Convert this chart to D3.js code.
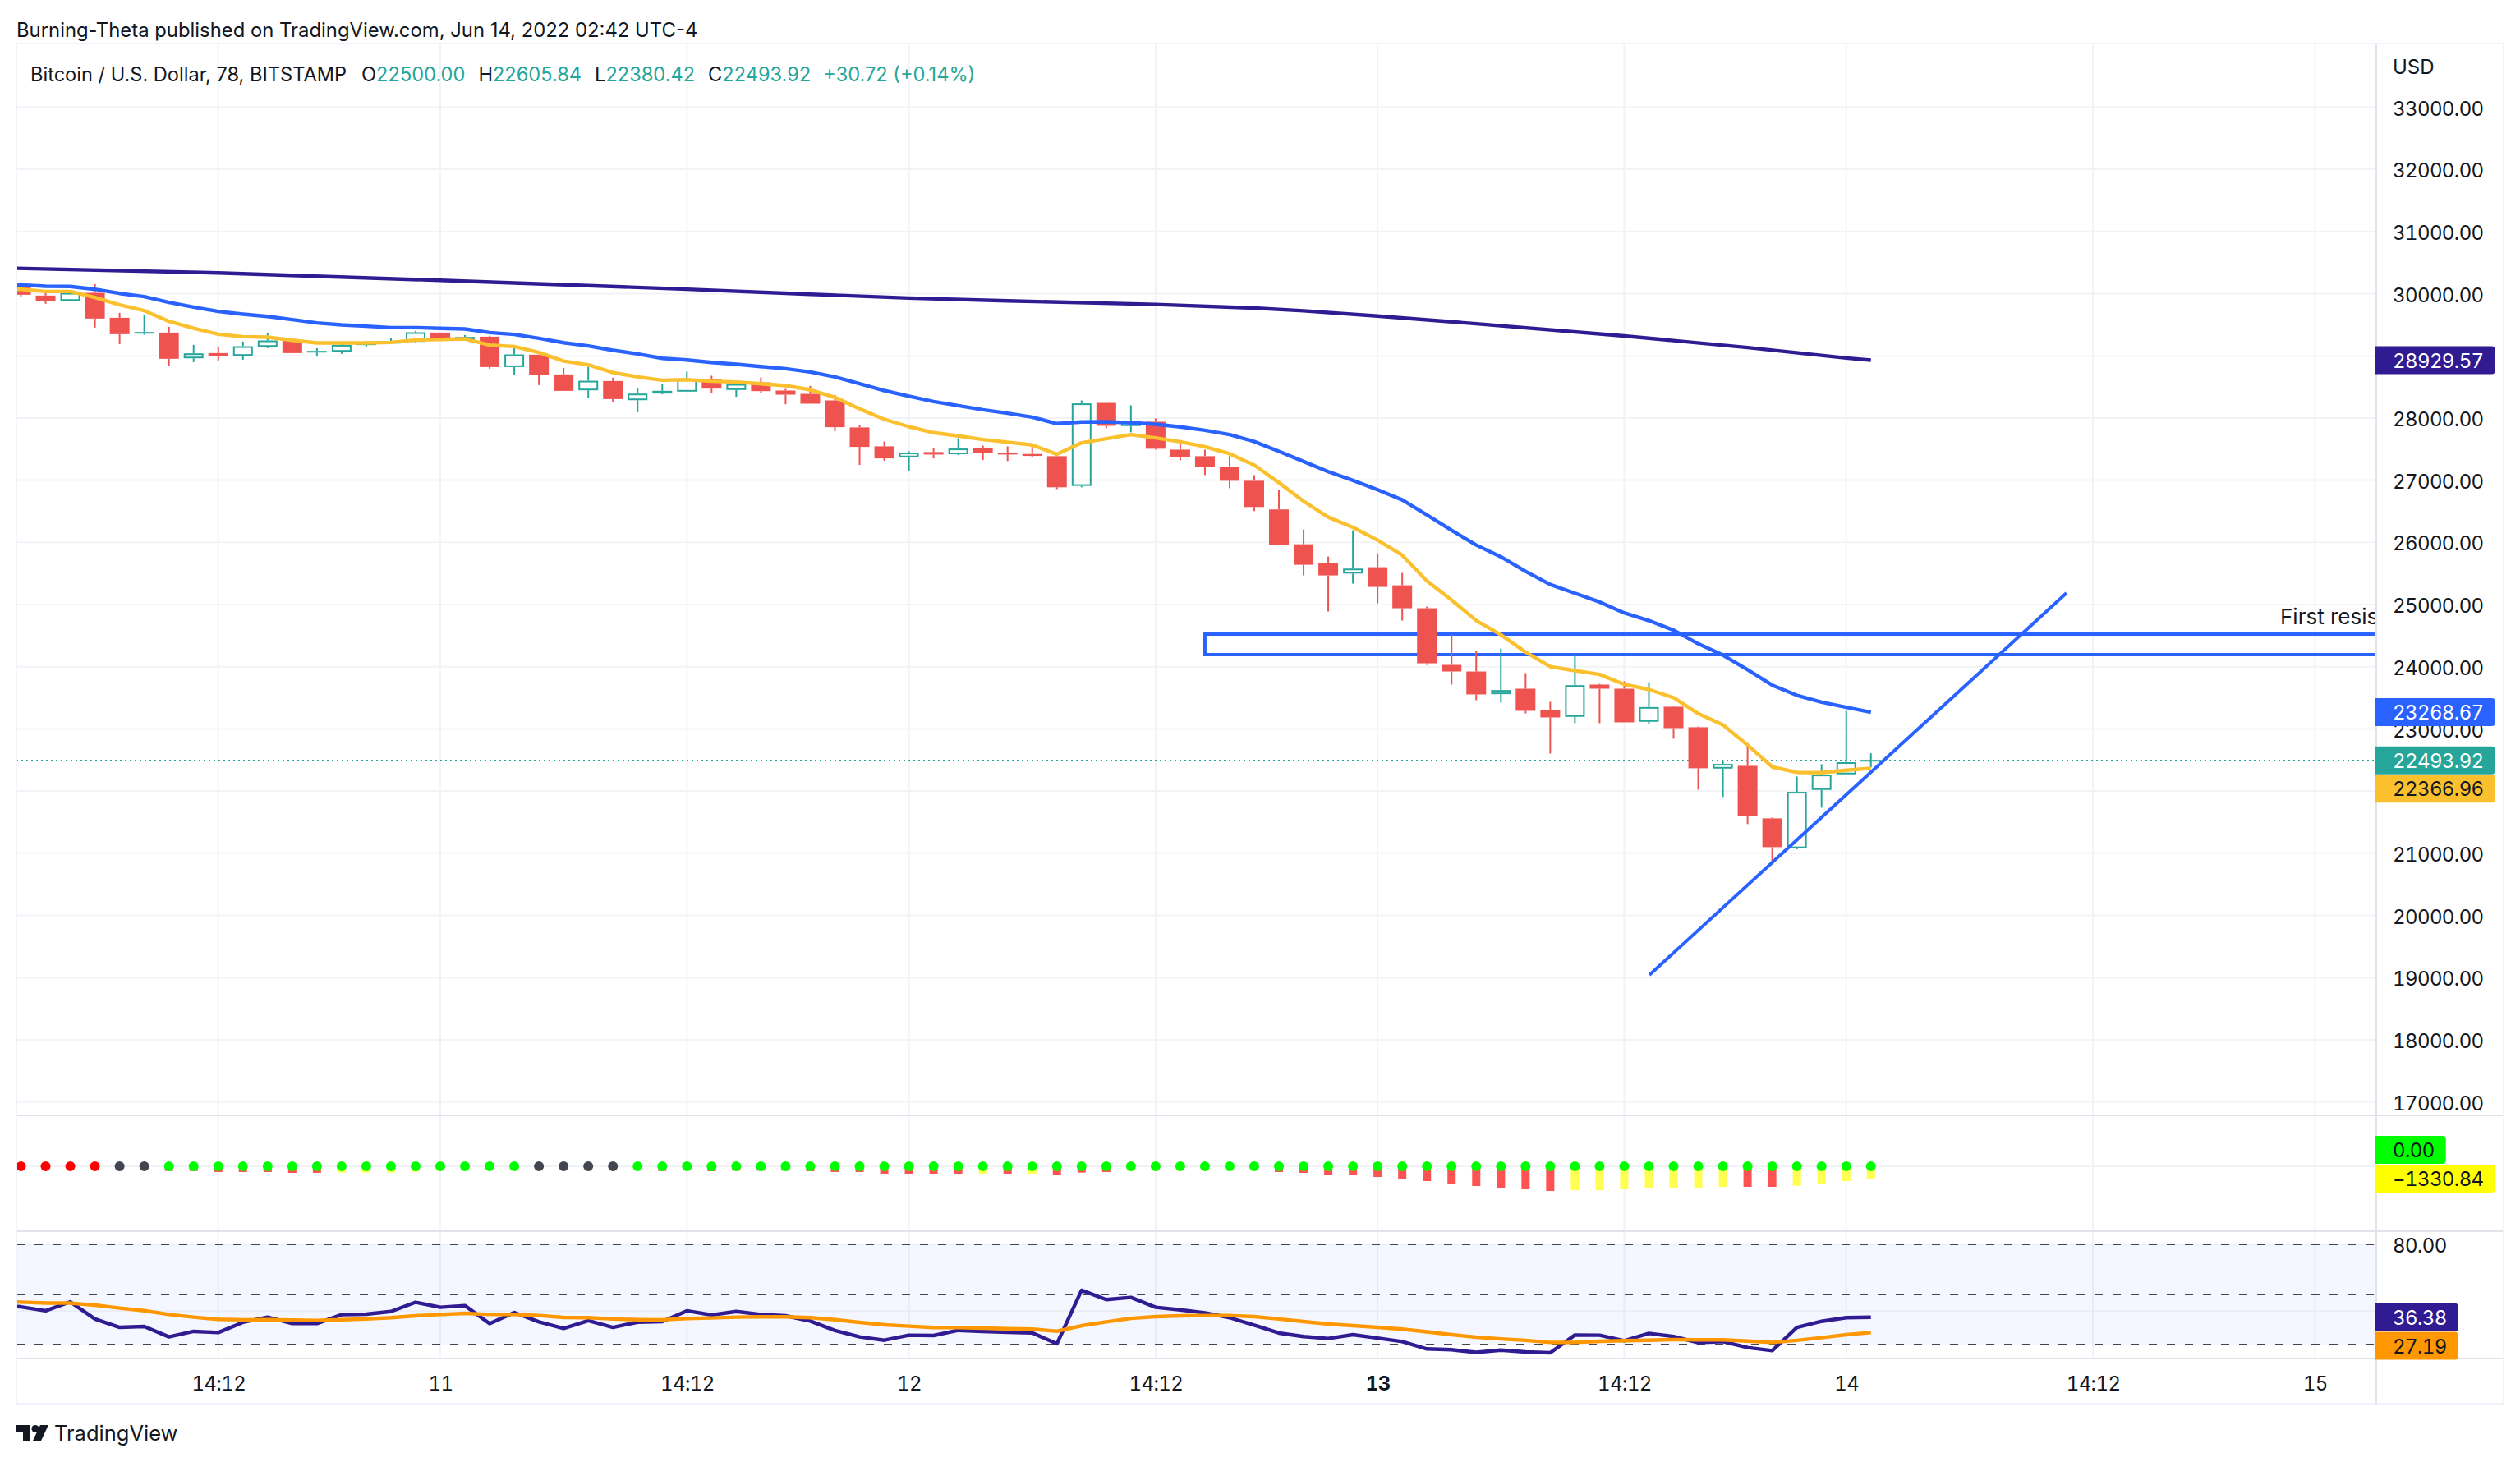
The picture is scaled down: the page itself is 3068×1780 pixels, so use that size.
<!DOCTYPE html>
<html>
<head>
<meta charset="utf-8">
<script src="https://cdn.jsdelivr.net/npm/d3@7"></script>
<style>
  html, body { margin: 0; padding: 0; background: #fff; }
  text { font-family: Inter, "Noto Sans", sans-serif; fill: #131722; }
  .num text, text.num { font-variant-numeric: tabular-nums; letter-spacing: -0.6px; }
</style>
</head>
<body>
<div id="chart"></div>
<script>
// candles, one row = 10 bars
const open = [
  30101,29969,29885,30013,29612,29383,29374,28960,29044,29000,
  29145,29251,29079,29066,29198,29198,29225,29374,29264,29308,
  28819,29018,28701,28445,28595,28286,28437,28424,28622,28450,
  28573,28441,28388,28283,27848,27544,27368,27452,27417,27518,
  27439,27421,27386,26907,28243,27870,27940,27491,27386,27214,
  26990,26529,25969,25666,25498,25600,25309,24940,24029,23923,
  23558,23646,23303,23193,23712,23646,23114,23356,23026,22361,
  22405,21560,21081,22018,22269,22500
];
const close = [
  29982,29881,30013,29599,29348,29361,28952,29040,28991,29154,
  29247,29044,29053,29176,29212,29238,29379,29264,29304,28819,
  29022,28687,28436,28599,28304,28392,28393,28631,28472,28547,
  28432,28375,28230,27852,27535,27350,27443,27412,27509,27439,
  27417,27390,26885,28235,27874,27958,27505,27373,27214,26990,
  26568,25960,25639,25468,25578,25283,24940,24055,23923,23554,
  23624,23290,23184,23703,23646,23105,23351,23012,22366,22436,
  21600,21098,21987,22264,22463.2,22493.92
];
const high = [
  30150,30035,30030,30154,29692,29665,29467,29176,29137,29229,
  29374,29264,29123,29220,29242,29282,29401,29374,29335,29326,
  29123,29018,28806,28824,28648,28489,28547,28745,28679,28573,
  28652,28468,28516,28371,27887,27623,27465,27518,27676,27557,
  27544,27544,27408,28283,28243,28204,27993,27597,27491,27386,
  27082,26846,26207,25771,26194,25824,25507,24966,24517,24253,
  24293,23897,23435,24187,23725,23765,23752,23369,23039,22498,
  22709,21574,22234,22432,23290,22605.84
];
const low = [
  29956,29837,29885,29454,29189,29339,28833,28899,28925,28938,
  29123,29044,28991,29031,29150,29194,29216,29264,29242,28793,
  28687,28529,28436,28317,28251,28093,28380,28424,28406,28340,
  28406,28221,28230,27786,27245,27311,27152,27350,27403,27324,
  27307,27373,26858,26885,27835,27769,27491,27320,27082,26871,
  26502,25960,25468,24887,25336,25019,24742,24029,23712,23461,
  23422,23250,22603,23092,23092,23105,23078,22841,22022,21904,
  21468,20821,21063,21732,22269,22380.42
];

// moving averages, first value is the bar before the left edge
const blueMa = [
  30145,30141,30119,30115,30070,30004,29952,29859,29784,29714,29670,
  29634,29582,29529,29498,29476,29454,29454,29441,29432,29374,
  29344,29282,29211,29159,29088,29031,28960,28934,28894,28864,
  28828,28793,28740,28661,28551,28441,28349,28265,28199,28133,
  28076,28014,27909,27935,27940,27922,27900,27856,27803,27733,
  27621,27463,27300,27137,26996,26846,26683,26441,26194,25956,
  25767,25534,25322,25182,25041,24865,24742,24588,24368,24187,
  23950,23703,23540,23430,23347,23268.67
];
const goldMa = [
  30079,30070,30035,30035,29938,29819,29727,29555,29445,29348,29308,
  29300,29251,29207,29207,29207,29216,29256,29264,29273,29172,
  29150,29053,28916,28855,28731,28661,28608,28617,28591,28578,
  28551,28520,28454,28331,28146,27979,27860,27764,27711,27654,
  27610,27566,27416,27601,27667,27733,27680,27618,27539,27425,
  27242,26960,26661,26405,26242,26035,25793,25380,25072,24742,
  24513,24236,24002,23936,23875,23716,23633,23501,23246,23065,
  22740,22388,22300,22295,22335,22366.96
];
const slowMaBars = [-1,8,17,23,27,32,36,40,46,50,52,55,59,65,70,74,75];
const slowMa = [30416,30333,30214,30129,30071,29991,29929,29884,29827,29769,29724,29640,29516,29320,29133,28965,28929.57];

// squeeze momentum pane
const momentum = [
  -300,-300,-300,-300,-300,-300,-503,-503,-621,-621,
  -621,-710,-710,-680,-680,-680,-591,-473,-350,-350,
  -350,-350,-350,-473,-470,-440,-503,-444,-532,-470,
  -470,-470,-532,-621,-621,-798,-798,-798,-798,-798,
  -798,-798,-887,-680,-621,-503,-470,-470,-470,-470,
  -470,-621,-710,-887,-976,-1153,-1331,-1597,-1863,-2129,
  -2306,-2484,-2661,-2573,-2573,-2484,-2395,-2306,-2306,-2218,
  -2218,-2218,-2100,-1863,-1597,-1330.84
];
// r = falling, y = rising
const momentumState = "yyyyyyrrrrrrryyyyyyyyyyyyyrrrrrrrrrrrrryryrrryyyyyyrrrrrrrrrrrryyyyyyyrryyyy".slice(0, 76).split("");
// r = squeeze on, k = squeeze pending, g = released
const squeezeState = "rrrrkkgggggggggggggggkkkkggggggggggggggggggggggggggggggggggggggggggggggggggg".split("");

// rsi pane, first value is the bar before the left edge
const rsi = [
  43.6,42.6,40.2,45.6,35.3,30.3,30.8,24.6,27.9,27.2,33.3,
  36.4,32.6,32.6,37.9,38.2,39.8,45.3,42.3,43.3,32.5,
  39.2,33.6,29.7,34.3,30.3,33.4,33.8,40.2,37.7,39.8,
  38.0,37.2,34.1,28.4,24.6,22.6,25.6,25.4,28.5,27.9,
  27.4,27.0,20.5,52.5,46.9,48.2,42.3,40.8,39.0,36.1,
  31.6,26.9,24.8,23.6,25.9,23.9,21.8,17.4,16.9,15.3,
  16.7,15.6,15.1,25.7,25.6,22.3,26.7,24.8,21.2,21.8,
  18.2,16.4,30.3,33.9,36.1,36.38
];
const rsiMa = [
  45.6,45.4,44.8,44.8,43.6,41.8,40.3,38.0,36.4,35.1,34.8,
  34.9,34.6,34.4,34.9,35.4,36.1,37.2,38.0,38.7,38.0,
  38.0,37.4,36.2,36.1,35.3,34.9,34.8,35.6,35.9,36.4,
  36.6,36.6,36.1,34.9,33.3,31.8,31.0,30.2,30.2,29.8,
  29.5,29.2,28.0,31.3,33.6,35.7,36.7,37.2,37.4,37.4,
  36.7,35.3,33.8,32.3,31.3,30.3,29.2,27.6,25.9,24.4,
  23.4,22.5,21.3,21.3,22.0,22.3,22.6,23.0,22.8,22.8,
  22.1,21.3,22.5,24.1,25.9,27.19
];

// axes
const priceTicks = [17000,18000,19000,20000,21000,22000,23000,24000,25000,26000,27000,28000,29000,30000,31000,32000,33000];
const rsiGrid = [40,80];
const rsiTicks = [80]; // 40 sits behind the 36.38 label
const rsiLevels = [20,50,80];
const timeBars = [8,17,27,36,46,55,65,74,84,93];
const timeLabels = ["14:12","11","14:12","12","14:12","13","14:12","14","14:12","15"];

// drawings: [bar, price]
const zoneBars = [48,110];
const zonePrices = [24194,24524];
const trendBars = [66.02,82.93];
const trendPrices = [19042,25185];

// header
const publishedText = "Burning-Theta published on TradingView.com, Jun 14, 2022 02:42 UTC-4";
const symbolText = "Bitcoin / U.S. Dollar, 78, BITSTAMP";
const ohlcKeys = ["O","H","L","C"];
const ohlcValues = ["22500.00","22605.84","22380.42","22493.92"];
const changeText = "+30.72 (+0.14%)";
const noteText = "First resis"; // runs into the price axis

const width = 3068, height = 1780;
const plotLeft = 20, plotRight = 2893, frameRight = 3048, frameTop = 53;
const mainBottom = 1358, momBottom = 1499, rsiBottom = 1654, frameBottom = 1709;

const teal = "#26a69a", red = "#ef5350", blue = "#2962ff", gold = "#fbc02d",
      indigo = "#311b92", orange = "#ff9800", gridColor = "#f2f3f6", sepColor = "#e0e3eb";

const svg = d3.select("#chart").append("svg")
    .attr("width", width)
    .attr("height", height)
    .style("display", "block");

svg.append("defs").append("clipPath").attr("id", "plot-clip")
  .append("rect").attr("x", plotLeft).attr("y", frameTop).attr("width", plotRight - plotLeft).attr("height", rsiBottom - frameTop);

const xScale = d3.scaleLinear().domain([0, 75]).range([25.5, 2277.75]);
const yPrice = d3.scaleLinear().domain([17000, 33000]).range([1341.6, 130.4]);
const yMom = d3.scaleLinear().domain([-1330.84, 0]).range([1435, 1420]);
const yRsi = d3.scaleLinear().domain([20, 80]).range([1637, 1515]);

const plot = svg.append("g").attr("clip-path", "url(#plot-clip)");

// gridlines
plot.selectAll(".grid-x").data(timeBars).enter().append("line")
    .attr("x1", d => xScale(d)).attr("x2", d => xScale(d))
    .attr("y1", frameTop).attr("y2", rsiBottom)
    .attr("stroke", gridColor).attr("stroke-width", 2);

plot.selectAll(".grid-y").data(priceTicks).enter().append("line")
    .attr("x1", plotLeft).attr("x2", plotRight)
    .attr("y1", d => yPrice(d)).attr("y2", d => yPrice(d))
    .attr("stroke", gridColor).attr("stroke-width", 2);

plot.append("line").attr("x1", plotLeft).attr("x2", plotRight)
    .attr("y1", yMom(0)).attr("y2", yMom(0))
    .attr("stroke", gridColor).attr("stroke-width", 2);

// rsi band goes over the grid, the grid still shows through
plot.append("rect").attr("x", plotLeft).attr("width", plotRight - plotLeft)
    .attr("y", yRsi(80)).attr("height", yRsi(20) - yRsi(80))
    .attr("fill", "#2962ff").attr("fill-opacity", 0.05);

plot.selectAll(".grid-rsi").data(rsiGrid).enter().append("line")
    .attr("x1", plotLeft).attr("x2", plotRight)
    .attr("y1", d => yRsi(d)).attr("y2", d => yRsi(d))
    .attr("stroke", "#e0e3eb").attr("stroke-opacity", 0.5).attr("stroke-width", 2);

plot.selectAll(".rsi-level").data(rsiLevels).enter().append("line")
    .attr("x1", plotLeft).attr("x2", plotRight)
    .attr("y1", d => yRsi(d)).attr("y2", d => yRsi(d))
    .attr("stroke", "#434651").attr("stroke-width", 2).attr("stroke-dasharray", "10 12");

// resistance zone sits under the candles
plot.append("rect")
    .attr("x", xScale(zoneBars[0])).attr("width", xScale(zoneBars[1]) - xScale(zoneBars[0]))
    .attr("y", yPrice(zonePrices[1])).attr("height", yPrice(zonePrices[0]) - yPrice(zonePrices[1]))
    .attr("fill", "none").attr("stroke", blue).attr("stroke-width", 4);

plot.append("text").attr("x", 2776).attr("y", 760)
    .style("font-size", "26px").text(noteText);

// last price line
plot.append("line").attr("x1", plotLeft).attr("x2", plotRight)
    .attr("y1", Math.round(yPrice(close[75]))).attr("y2", Math.round(yPrice(close[75])))
    .attr("stroke", teal).attr("stroke-width", 2).attr("stroke-dasharray", "2 4");

// candles
const bars = d3.range(open.length);
const candleColor = i => {
  const ref = i === 0 ? open[0] : close[i - 1];
  return close[i] >= ref ? teal : red;
};
const bodyW = 24;

const candle = plot.selectAll(".candle").data(bars).enter().append("g").attr("class", "candle");

candle.append("line")
    .attr("x1", i => xScale(i)).attr("x2", i => xScale(i))
    .attr("y1", i => yPrice(high[i])).attr("y2", i => yPrice(Math.max(open[i], close[i])))
    .attr("stroke", candleColor).attr("stroke-width", 2);
candle.append("line")
    .attr("x1", i => xScale(i)).attr("x2", i => xScale(i))
    .attr("y1", i => yPrice(Math.min(open[i], close[i]))).attr("y2", i => yPrice(low[i]))
    .attr("stroke", candleColor).attr("stroke-width", 2);

// hollow when it closed up, filled when it closed down
candle.filter(i => close[i] > open[i]).append("rect")
    .attr("x", i => xScale(i) - bodyW / 2 + 1).attr("width", bodyW - 2)
    .attr("y", i => yPrice(close[i]) + 1)
    .attr("height", i => Math.max(1, yPrice(open[i]) - yPrice(close[i]) - 2))
    .attr("fill", "none").attr("stroke", candleColor).attr("stroke-width", 2);
candle.filter(i => close[i] <= open[i]).append("rect")
    .attr("x", i => xScale(i) - bodyW / 2).attr("width", bodyW)
    .attr("y", i => yPrice(open[i]))
    .attr("height", i => Math.max(2, yPrice(close[i]) - yPrice(open[i])))
    .attr("fill", candleColor);

// moving averages
const lineByBar = y => d3.line().x((d, i) => xScale(i - 1)).y(d => y(d));
const drawLine = (d, color, gen) => plot.append("path").attr("d", gen(d))
    .attr("fill", "none").attr("stroke", color).attr("stroke-width", 4.4).attr("stroke-linejoin", "round");

plot.append("path")
    .attr("d", d3.line().x((d, i) => xScale(slowMaBars[i])).y(d => yPrice(d))(slowMa))
    .attr("fill", "none").attr("stroke", indigo).attr("stroke-width", 4.4);
drawLine(blueMa, blue, lineByBar(yPrice));
drawLine(goldMa, gold, lineByBar(yPrice));

// trend line
plot.append("line")
    .attr("x1", xScale(trendBars[0])).attr("y1", yPrice(trendPrices[0]))
    .attr("x2", xScale(trendBars[1])).attr("y2", yPrice(trendPrices[1]))
    .attr("stroke", blue).attr("stroke-width", 4);

// squeeze momentum
const stateColor = { r: "#ff5252", y: "#ffff52" };
const dotColor = { r: "#ff0000", k: "#434651", g: "#00ff00" };

plot.selectAll(".mom-bar").data(bars).enter().append("rect")
    .attr("x", i => xScale(i) - 5).attr("width", 10)
    .attr("y", yMom(0))
    .attr("height", i => yMom(momentum[i]) - yMom(0))
    .attr("fill", i => stateColor[momentumState[i]]);

plot.selectAll(".mom-dot").data(bars).enter().append("circle")
    .attr("cx", i => xScale(i)).attr("cy", yMom(0)).attr("r", 6)
    .attr("fill", i => dotColor[squeezeState[i]]);

// rsi
drawLine(rsi, indigo, lineByBar(yRsi));
drawLine(rsiMa, orange, lineByBar(yRsi));

// frame
const hLines = [frameTop, mainBottom, momBottom, rsiBottom];
svg.selectAll(".sep").data(hLines).enter().append("line")
    .attr("x1", plotLeft).attr("x2", frameRight)
    .attr("y1", d => d).attr("y2", d => d)
    .attr("stroke", (d, i) => i === 0 ? "#f0f3fa" : sepColor).attr("stroke-width", 2);
svg.append("line").attr("x1", plotLeft).attr("x2", frameRight).attr("y1", frameBottom).attr("y2", frameBottom)
    .attr("stroke", "#f0f3fa").attr("stroke-width", 2);
svg.append("line").attr("x1", plotLeft).attr("x2", plotLeft).attr("y1", frameTop).attr("y2", frameBottom)
    .attr("stroke", "#f0f3fa").attr("stroke-width", 2);
svg.append("line").attr("x1", frameRight).attr("x2", frameRight).attr("y1", frameTop).attr("y2", frameBottom)
    .attr("stroke", "#f0f3fa").attr("stroke-width", 2);
svg.append("line").attr("x1", plotRight).attr("x2", plotRight).attr("y1", frameTop).attr("y2", frameBottom)
    .attr("stroke", sepColor).attr("stroke-width", 2);

// axes
const priceAxis = d3.axisRight(yPrice).tickValues(priceTicks).tickSize(0).tickPadding(20).tickFormat(d3.format(".2f"));
const rsiAxis = d3.axisRight(yRsi).tickValues(rsiTicks).tickSize(0).tickPadding(20).tickFormat(d3.format(".2f"));
const timeAxis = d3.axisBottom(xScale).tickValues(timeBars).tickSize(0).tickPadding(0)
    .tickFormat((d, i) => timeLabels[i]);

[[priceAxis, "price-axis"], [rsiAxis, "rsi-axis"]].forEach(([axis, name]) => {
  const g = svg.append("g").attr("class", "num " + name).attr("transform", "translate(" + plotRight + ",0)").call(axis);
  g.select(".domain").remove();
  g.selectAll("text").style("font-size", "24px").attr("dy", ".4em");
});

const timeG = svg.append("g").attr("class", "num").attr("transform", "translate(0,1684)").call(timeAxis);
timeG.select(".domain").remove();
timeG.selectAll("text").style("font-size", "24px").attr("y", 0).attr("dy", ".36em")
    .style("font-weight", (d, i) => timeLabels[i] === "13" ? 700 : 400);

svg.append("text").attr("x", 2913).attr("y", 81).attr("dy", ".36em").style("font-size", "24px").text("USD");

// value labels on the axis; shift pushes a label off another one that holds its spot
const labelValues = [28929.57, 23268.67, 22493.92, 22366.96, 0, -1330.84, 36.38, 27.19];
const labelColors = [indigo, blue, teal, gold, "#00ff00", "#ffff00", indigo, orange];
const labelInk = ["#fff", "#fff", "#fff", "#131722", "#131722", "#131722", "#fff", "#131722"];
const labelScale = [yPrice, yPrice, yPrice, yPrice, yMom, yMom, yRsi, yRsi];
const labelShift = [0, 0, 0, 25, -20, 0, 0, 16];
const fmt = v => d3.format(".2f")(v).replace("-", "\u2212");

const labels = svg.selectAll(".val-label").data(labelValues).enter().append("g")
    .attr("class", "num")
    .attr("transform", (d, i) => "translate(" + (plotRight - 1) + "," + (labelScale[i](d) + labelShift[i]) + ")");

labels.append("text").attr("class", "measure")
    .attr("x", 21).attr("dy", ".38em").style("font-size", "24px")
    .style("fill", (d, i) => labelInk[i])
    .text(fmt);

labels.each(function (d, i) {
  const g = d3.select(this);
  const w = g.select("text").node().getComputedTextLength() + 21 + 14;
  const r = 4;
  g.insert("path", "text")
      .attr("d", "M0,-17H" + (w - r) + "Q" + w + ",-17 " + w + "," + (-17 + r) + "V" + (17 - r) + "Q" + w + ",17 " + (w - r) + ",17H0Z")
      .attr("fill", labelColors[i]);
});

// header text
svg.append("text").attr("x", 20).attr("y", 36).attr("dy", ".36em").style("font-size", "23.85px").text(publishedText);

const legend = svg.append("text").attr("x", 37).attr("y", 91).attr("dy", ".36em").style("font-size", "23.6px");
legend.append("tspan").text(symbolText);
ohlcKeys.forEach((k, i) => {
  legend.append("tspan").attr("dx", i === 0 ? 18 : 16).text(k);
  legend.append("tspan").style("fill", teal).text(ohlcValues[i]);
});
legend.append("tspan").attr("dx", 15).style("fill", teal).text(changeText);

// footer logo
const logo = svg.append("g").attr("fill", "#131722");
logo.append("path").attr("d", "M20,1735H37V1754H28V1744H20Z");
logo.append("circle").attr("cx", 43).attr("cy", 1739.5).attr("r", 4.5);
logo.append("path").attr("d", "M49,1735H59L50,1754H40Z");
svg.append("text").attr("x", 66).attr("y", 1745).attr("dy", ".36em").style("font-size", "25.5px").text("TradingView");
</script>
</body>
</html>
